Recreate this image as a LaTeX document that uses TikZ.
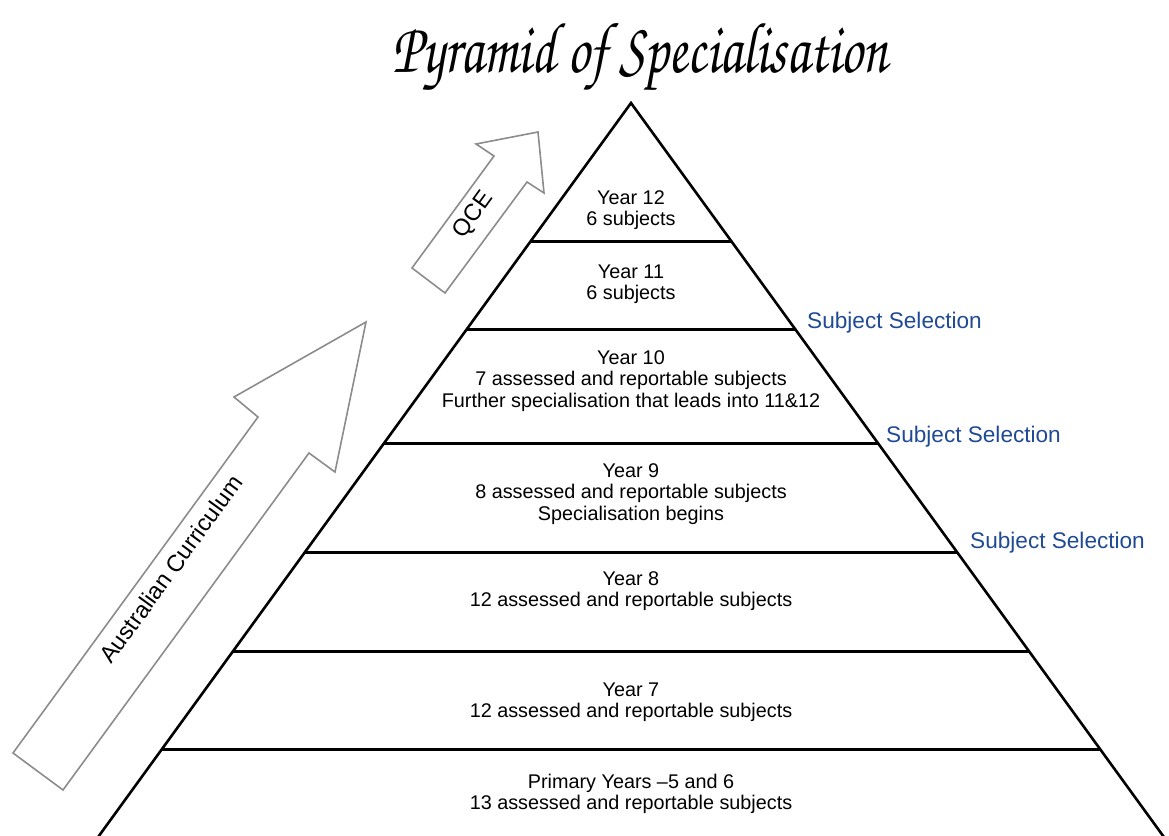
\documentclass[tikz,border=0pt]{standalone}
\usepackage{fontspec}
\setmainfont{Liberation Sans}
\newfontfamily\titlefont{TeX Gyre Chorus}
\definecolor{selblue}{RGB}{32,74,148}
\definecolor{arrowgray}{RGB}{140,140,140}
\begin{document}
\begin{tikzpicture}[x=1pt,y=-1pt,
  level/.style={line width=3pt,black},
  edge/.style={line width=2.6pt,black},
  bigarrow/.style={draw=arrowgray,line width=1.6pt,fill=white,line join=miter},
  leveltext/.style={align=center,font=\fontsize{19.8}{21.5}\selectfont,inner sep=0pt},
  seltext/.style={anchor=west,text=selblue,font=\fontsize{22.6}{24}\selectfont,inner sep=0pt},
  arrowtext/.style={font=\fontsize{23.5}{25}\selectfont,inner sep=0pt}]
\useasboundingbox (0,0) rectangle (1169,835);
\begin{scope}
\clip (0,0) rectangle (1169,835);
% title
\node[font=\titlefont\fontsize{60}{66}\selectfont,inner sep=0pt,xscale=0.917,yscale=1.2] (title) at (640,57) {Pyramid of Specialisation};
% pyramid
\coordinate (apex) at (631,103);
\coordinate (bl) at ({631-0.726*762},865);
\coordinate (br) at ({631+0.726*762},865);
\draw[edge,line join=miter] (bl) -- (apex) -- (br);
\foreach \y in {241,329,443,552,651,749}{
  \draw[level] ({631-0.726*(\y-103)},\y) -- ({631+0.726*(\y-103)},\y);
}
% level texts
\node[leveltext] (y12) at (631,210) {Year 12\\6 subjects};
\node[leveltext] (y11) at (631,284) {Year 11\\6 subjects};
\node[leveltext] (y10) at (631,381) {Year 10\\7 assessed and reportable subjects\\Further specialisation that leads into 11\&12};
\node[leveltext] (y9) at (631,494) {Year 9\\8 assessed and reportable subjects\\Specialisation begins};
\node[leveltext] (y8) at (631,591) {Year 8\\12 assessed and reportable subjects};
\node[leveltext] (y7) at (631,702) {Year 7\\12 assessed and reportable subjects};
\node[leveltext] (prim) at (631,794) {Primary Years --5 and 6\\13 assessed and reportable subjects};
% subject selection
\node[seltext] (s1) at (807,323) {Subject Selection};
\node[seltext] (s2) at (886,437) {Subject Selection};
\node[seltext] (s3) at (970,543) {Subject Selection};
% arrows
\draw[bigarrow] (13,753) -- (258,417) -- (234,397) -- (366,322) -- (335,472) -- (309,453) -- (63,790) -- cycle;
\node[arrowtext,rotate=54] (ac) at (171,569) {Australian Curriculum};
\draw[bigarrow] (412,268) -- (494,156) -- (476,144) -- (538,132) -- (544,193) -- (527,182) -- (445,293) -- cycle;
\node[arrowtext,rotate=54] (qce) at (474,215) {QCE};
\end{scope}
\end{tikzpicture}
\end{document}
